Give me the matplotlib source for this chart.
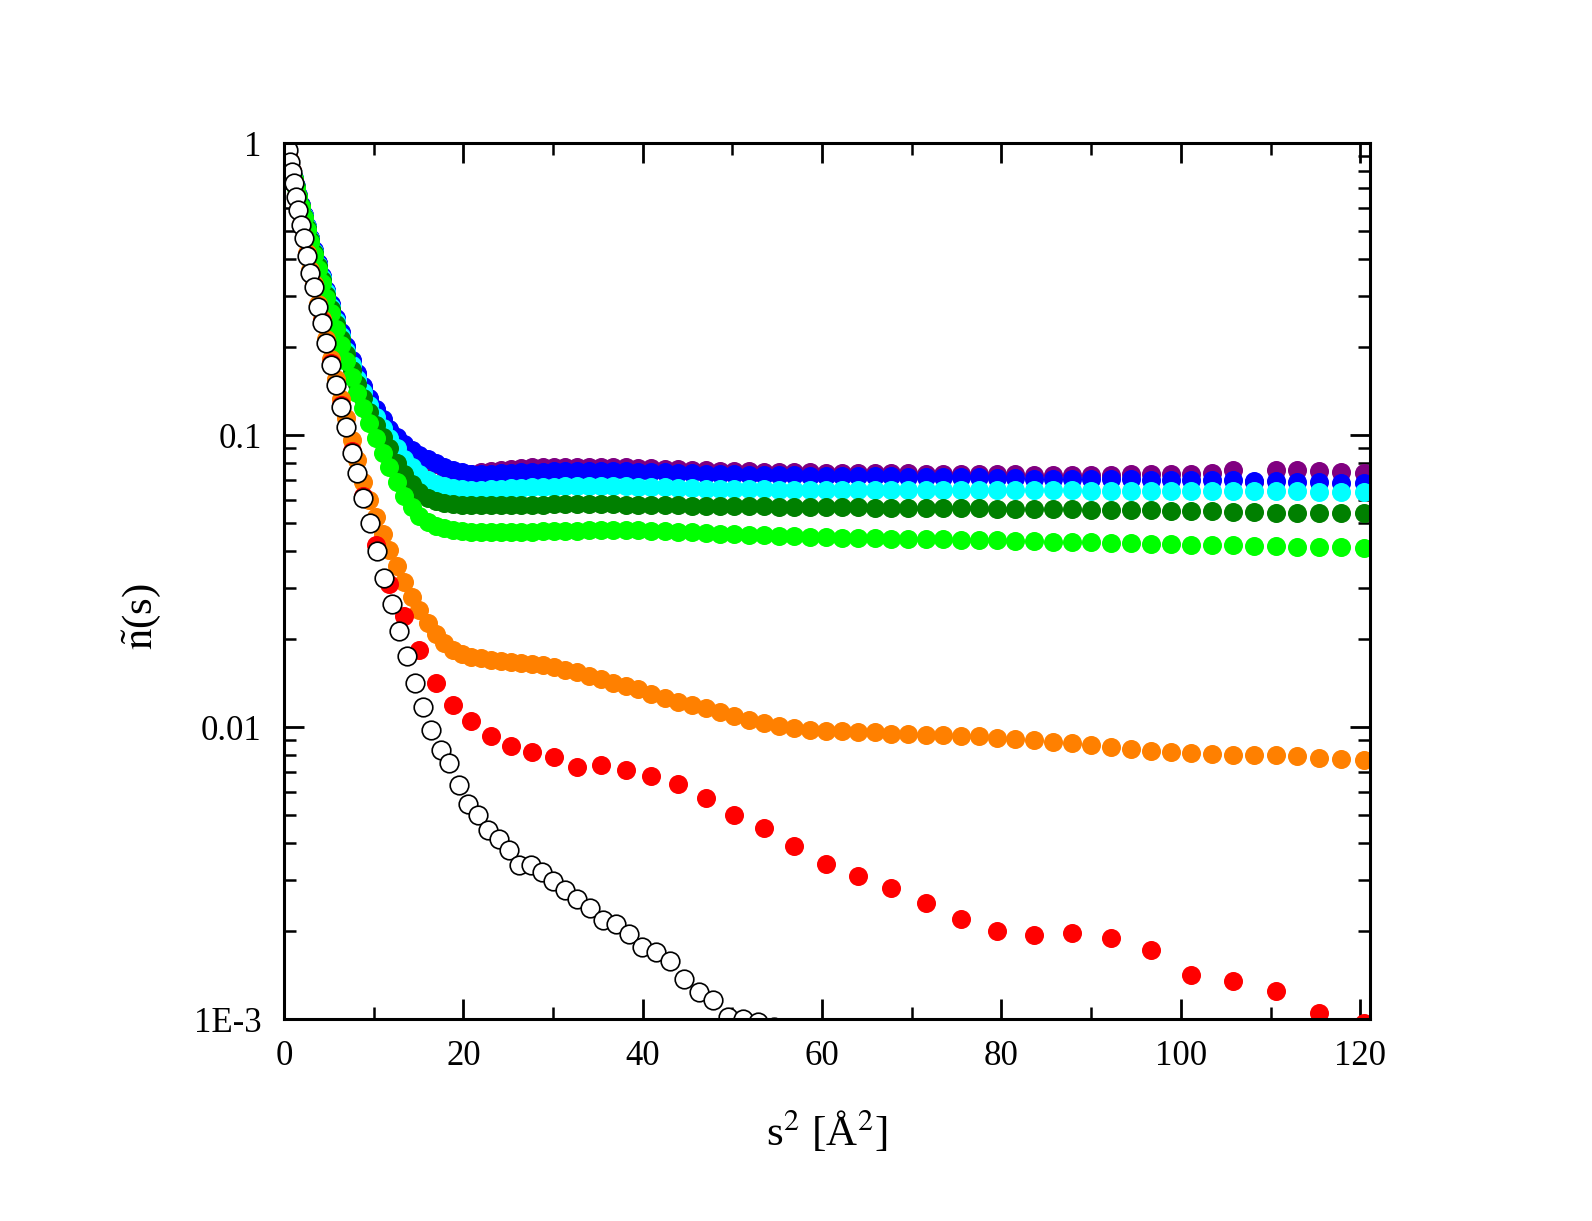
import numpy as np
import matplotlib
matplotlib.use("Agg")
import matplotlib.pyplot as plt
from matplotlib.ticker import FixedLocator, FixedFormatter, MultipleLocator, NullFormatter, LogLocator

plt.rcParams["font.family"] = ["Liberation Serif", "DejaVu Serif"]
plt.rcParams["mathtext.fontset"] = "stix"

# s^2 sampling grid (A^2)
s2 = [0.00, 0.01, 0.05, 0.12, 0.21, 0.33, 0.47, 0.64, 0.84, 1.06,
      1.31, 1.58, 1.88, 2.21, 2.56, 2.94, 3.34, 3.78, 4.23, 4.72,
      5.23, 5.76, 6.32, 6.91, 7.53, 8.17, 8.83, 9.52, 10.24, 10.99,
      11.76, 12.55, 13.38, 14.23, 15.10, 16.00, 16.93, 17.89, 18.86, 19.87,
      20.90, 21.96, 23.05, 24.16, 25.29, 26.46, 27.64, 28.86, 30.10, 31.37,
      32.66, 33.98, 35.33, 36.70, 38.10, 39.52, 40.97, 42.45, 43.95, 45.48,
      47.03, 48.61, 50.22, 51.85, 53.51, 55.20, 56.91, 58.64, 60.41, 62.20,
      64.01, 65.86, 67.72, 69.62, 71.54, 73.49, 75.46, 77.46, 79.48, 81.53,
      83.61, 85.71, 87.84, 90.00, 92.18, 94.39, 96.62, 98.88, 101.17, 103.48,
      105.82, 108.18, 110.57, 112.99, 115.43, 117.90, 120.40]

# the open-circle set sits on a slightly wider grid
white_s2 = [0.00, 0.01, 0.05, 0.12, 0.21, 0.33, 0.47, 0.64, 0.84, 1.06,
            1.31, 1.58, 1.88, 2.21, 2.56, 2.94, 3.34, 3.78, 4.23, 4.72,
            5.23, 5.76, 6.32, 6.91, 7.53, 8.17, 8.86, 9.59, 10.34, 11.19,
            12.00, 12.83, 13.68, 14.57, 15.46, 16.43, 17.47, 18.44, 19.52, 20.56,
            21.67, 22.79, 23.94, 25.13, 26.20, 27.50, 28.74, 30.03, 31.37, 32.70,
            34.13, 35.54, 37.02, 38.51, 39.96, 41.49, 43.05, 44.61, 46.25, 47.88,
            49.55, 51.20, 52.90, 54.60]

purple = [1.0, 0.995, 0.984, 0.967, 0.944, 0.915, 0.881, 0.843, 0.801, 0.756,
          0.709, 0.661, 0.613, 0.565, 0.518, 0.472, 0.428, 0.387, 0.348, 0.312,
          0.280, 0.250, 0.224, 0.200, 0.180, 0.162, 0.146, 0.133, 0.122, 0.112,
          0.104, 0.0978, 0.0925, 0.0882, 0.0847, 0.0818, 0.0793, 0.0773, 0.0755, 0.0742,
          0.0738, 0.0745, 0.0755, 0.0760, 0.0768, 0.0772, 0.0775, 0.0778, 0.0780, 0.0780,
          0.0780, 0.0779, 0.0778, 0.0780, 0.0777, 0.0773, 0.0770, 0.0767, 0.0763, 0.0760,
          0.0757, 0.0755, 0.0753, 0.0752, 0.0750, 0.0748, 0.0746, 0.0745, 0.0744, 0.0743,
          0.0742, 0.0741, 0.0740, 0.0739, 0.0738, 0.0737, 0.0736, 0.0735, 0.0734, 0.0733,
          0.0732, 0.0731, 0.0731, 0.0731, 0.0732, 0.0734, 0.0733, 0.0735, 0.0737, 0.0740,
          0.0757, 0.0690, 0.0760, 0.0762, 0.0752, 0.0745, 0.0742]

blue = [1.0, 0.9966, 0.9863, 0.9693, 0.9462, 0.9173, 0.8836, 0.8451, 0.8031, 0.7582,
        0.7113, 0.6630, 0.6147, 0.5663, 0.5190, 0.4733, 0.4295, 0.3883, 0.3496, 0.3139,
        0.2813, 0.2518, 0.2252, 0.2017, 0.1810, 0.1629, 0.1473, 0.1340, 0.1227, 0.1131,
        0.1052, 0.0987, 0.0933, 0.0889, 0.0854, 0.0825, 0.0800, 0.0780, 0.0760, 0.0745,
        0.0738, 0.0735, 0.0735, 0.0740, 0.0742, 0.0745, 0.0748, 0.0750, 0.0752, 0.0755,
        0.0755, 0.0756, 0.0756, 0.0755, 0.0752, 0.0750, 0.0748, 0.0745, 0.0743, 0.0740,
        0.0738, 0.0736, 0.0734, 0.0732, 0.0730, 0.0729, 0.0728, 0.0727, 0.0726, 0.0725,
        0.0724, 0.0723, 0.0722, 0.0721, 0.0720, 0.0719, 0.0718, 0.0716, 0.0714, 0.0712,
        0.0710, 0.0709, 0.0708, 0.0707, 0.0706, 0.0705, 0.0704, 0.0703, 0.0702, 0.0701,
        0.0699, 0.0697, 0.0695, 0.0692, 0.0689, 0.0686, 0.0683]

cyan = [1.0, 0.9965, 0.9862, 0.9691, 0.9458, 0.9166, 0.8826, 0.8438, 0.8014, 0.7561,
        0.7088, 0.6601, 0.6113, 0.5625, 0.5148, 0.4687, 0.4246, 0.3830, 0.3440, 0.3080,
        0.2751, 0.2454, 0.2185, 0.1948, 0.1739, 0.1557, 0.1400, 0.1265, 0.1151, 0.1055,
        0.0974, 0.0905, 0.0830, 0.0780, 0.0735, 0.0700, 0.0680, 0.0668, 0.0660, 0.0653,
        0.0650, 0.0650, 0.0652, 0.0655, 0.0658, 0.0660, 0.0662, 0.0664, 0.0666, 0.0668,
        0.0669, 0.0670, 0.0670, 0.0670, 0.0668, 0.0666, 0.0664, 0.0662, 0.0660, 0.0658,
        0.0656, 0.0655, 0.0654, 0.0653, 0.0652, 0.0651, 0.0650, 0.0650, 0.0650, 0.0650,
        0.0650, 0.0650, 0.0650, 0.0649, 0.0649, 0.0649, 0.0648, 0.0648, 0.0648, 0.0647,
        0.0647, 0.0646, 0.0646, 0.0645, 0.0645, 0.0644, 0.0644, 0.0643, 0.0643, 0.0642,
        0.0642, 0.0641, 0.0641, 0.0641, 0.0640, 0.0640, 0.0640]

dkgreen = [1.0, 0.9965, 0.9861, 0.9688, 0.9454, 0.9160, 0.8817, 0.8426, 0.7999, 0.7542,
           0.7067, 0.6576, 0.6084, 0.5592, 0.5112, 0.4648, 0.4203, 0.3784, 0.3391, 0.3028,
           0.2697, 0.2397, 0.2127, 0.1888, 0.1677, 0.1494, 0.1335, 0.1200, 0.1085, 0.0988,
           0.0900, 0.0800, 0.0735, 0.0680, 0.0640, 0.0610, 0.0595, 0.0585, 0.0580, 0.0577,
           0.0576, 0.0575, 0.0574, 0.0574, 0.0575, 0.0576, 0.0577, 0.0578, 0.0579, 0.0580,
           0.0580, 0.0580, 0.0580, 0.0579, 0.0578, 0.0577, 0.0576, 0.0575, 0.0574, 0.0573,
           0.0572, 0.0571, 0.0570, 0.0570, 0.0570, 0.0569, 0.0568, 0.0567, 0.0566, 0.0565,
           0.0565, 0.0564, 0.0564, 0.0563, 0.0563, 0.0562, 0.0562, 0.0561, 0.0560, 0.0560,
           0.0559, 0.0558, 0.0557, 0.0556, 0.0555, 0.0553, 0.0552, 0.0550, 0.0549, 0.0548,
           0.0546, 0.0545, 0.0543, 0.0542, 0.0541, 0.0540, 0.0539]

lime = [1.0, 0.9965, 0.9859, 0.9685, 0.9447, 0.9150, 0.8803, 0.8408, 0.7976, 0.7514,
        0.7032, 0.6536, 0.6038, 0.5541, 0.5055, 0.4585, 0.4135, 0.3711, 0.3314, 0.2947,
        0.2611, 0.2308, 0.2035, 0.1793, 0.1580, 0.1394, 0.1234, 0.1097, 0.0975, 0.0870,
        0.0775, 0.0690, 0.0620, 0.0565, 0.0530, 0.0505, 0.0490, 0.0480, 0.0472, 0.0468,
        0.0466, 0.0465, 0.0464, 0.0464, 0.0465, 0.0466, 0.0467, 0.0468, 0.0469, 0.0470,
        0.0471, 0.0472, 0.0473, 0.0474, 0.0473, 0.0472, 0.0470, 0.0468, 0.0466, 0.0464,
        0.0462, 0.0460, 0.0458, 0.0456, 0.0454, 0.0452, 0.0450, 0.0448, 0.0446, 0.0445,
        0.0444, 0.0443, 0.0442, 0.0441, 0.0440, 0.0439, 0.0438, 0.0437, 0.0436, 0.0434,
        0.0433, 0.0432, 0.0431, 0.0430, 0.0428, 0.0426, 0.0424, 0.0422, 0.0421, 0.0420,
        0.0419, 0.0418, 0.0416, 0.0415, 0.0414, 0.0413, 0.0412]

orange = [1.0, 0.995, 0.99, 0.98, 0.97, 0.955, 0.94, 0.87, 0.80, 0.735,
          0.66, 0.595, 0.53, 0.478, 0.42, 0.368, 0.328, 0.282, 0.25, 0.214,
          0.182, 0.156, 0.133, 0.114, 0.096, 0.082, 0.069, 0.060, 0.0525, 0.046,
          0.0405, 0.0355, 0.0315, 0.028, 0.0252, 0.0228, 0.0209, 0.0194, 0.0184, 0.0178,
          0.0174, 0.0172, 0.0170, 0.0168, 0.0167, 0.0166, 0.0165, 0.0163, 0.0160, 0.0157,
          0.0154, 0.0150, 0.0146, 0.0142, 0.0138, 0.0135, 0.0130, 0.0126, 0.0122, 0.0119,
          0.0116, 0.0113, 0.0109, 0.0106, 0.0103, 0.0101, 0.0099, 0.0098, 0.0097, 0.0097,
          0.0096, 0.0096, 0.0095, 0.0095, 0.0094, 0.0094, 0.0093, 0.0093, 0.0092, 0.0091,
          0.0090, 0.0089, 0.0088, 0.0087, 0.00855, 0.0084, 0.0083, 0.0082, 0.00815, 0.0081,
          0.00805, 0.008, 0.008, 0.00795, 0.00785, 0.0078, 0.0077]

# red sampled on every second grid point
red = [1.0, 0.99, 0.965, 0.935, 0.80, 0.655, 0.525, 0.415, 0.325, 0.245,
       0.176, 0.127, 0.088, 0.062, 0.042, 0.031, 0.024, 0.0183, 0.0141, 0.0119,
       0.01045, 0.0093, 0.0086, 0.0082, 0.0079, 0.0073, 0.0074, 0.0071, 0.0068, 0.0064,
       0.0057, 0.0050, 0.0045, 0.0039, 0.0034, 0.0031, 0.0028, 0.0025, 0.0022, 0.0020,
       0.00194, 0.00197, 0.0019, 0.00172, 0.00142, 0.00135, 0.00125, 0.00105, 0.00097]

white = [1.0, 0.998, 0.993, 0.985, 0.975, 0.962, 0.946, 0.861, 0.796, 0.730,
         0.653, 0.590, 0.524, 0.472, 0.412, 0.360, 0.321, 0.274, 0.242, 0.206,
         0.174, 0.148, 0.125, 0.107, 0.087, 0.074, 0.061, 0.050, 0.040, 0.0324,
         0.0264, 0.0214, 0.0175, 0.0141, 0.0117, 0.0098, 0.00834, 0.00754, 0.00632, 0.00547,
         0.00501, 0.00444, 0.00413, 0.00379, 0.00336, 0.00336, 0.00319, 0.00298, 0.00277, 0.00258,
         0.00241, 0.00218, 0.00211, 0.00195, 0.00176, 0.0017, 0.00158, 0.00137, 0.00124, 0.00116,
         0.00102, 0.001, 0.00098, 0.00094]

y_ticks = [1e-3, 1e-2, 1e-1, 1]
y_ticklabels = ["1E-3", "0.01", "0.1", "1"]

x = np.array(s2)

fig = plt.figure(figsize=(15.92, 12.21), dpi=100)
ax = fig.add_axes([0.1784, 0.1654, 0.6822, 0.7174])

ms = 13.7
dense = [(purple, "#800080"), (blue, "#0000ff"), (cyan, "#00ffff"),
         (dkgreen, "#008000"), (lime, "#00ff00"), (orange, "#ff8000")]
for vals, col in dense:
    ax.plot(x, vals, "o", ls="none", ms=ms, color=col, mec="none")

ax.plot(x[::2][:len(red)], red, "o", ls="none", ms=ms, color="#ff0000", mec="none")
ax.plot(white_s2, white, "o", ls="none", ms=13.4, mfc="white", mec="black", mew=1.2)

ax.set_yscale("log")
ax.set_xlim(0, 121.1)
ax.set_ylim(1e-3, 1)

ax.xaxis.set_major_locator(MultipleLocator(20))
ax.xaxis.set_minor_locator(MultipleLocator(10))
ax.yaxis.set_major_locator(FixedLocator(y_ticks))
ax.yaxis.set_major_formatter(FixedFormatter(y_ticklabels))
ax.yaxis.set_minor_locator(LogLocator(base=10, subs=np.arange(2, 10)))
ax.yaxis.set_minor_formatter(NullFormatter())

ax.tick_params(which="both", direction="in", top=True, right=True, labelsize=25)
ax.tick_params(which="major", length=14.4, width=2.0)
ax.tick_params(which="minor", length=8.6, width=1.8)
ax.tick_params(axis="y", which="major", pad=16)
ax.tick_params(axis="x", which="major", pad=15)
for sp in ax.spines.values():
    sp.set_linewidth(2.2)

ax.set_xlabel(r"s$^2$ [Å$^2$]", fontsize=31, va="center")
ax.xaxis.set_label_coords(0.5, -0.129)
ax.set_ylabel(r"$\tilde{\mathrm{n}}$(s)", fontsize=31, va="center")
ax.yaxis.set_label_coords(-0.131, 0.46)

fig.savefig("out.png", dpi=100)
